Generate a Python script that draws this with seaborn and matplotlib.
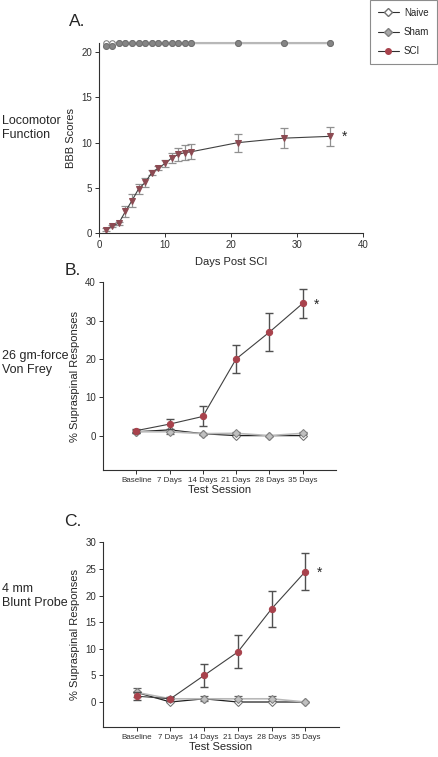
import numpy as np
import pandas as pd
import matplotlib
matplotlib.use("Agg")
import matplotlib.pyplot as plt
from matplotlib.lines import Line2D
import seaborn as sns

sns.set_style("ticks")
plt.rcParams['font.family'] = ['Liberation Sans', 'DejaVu Sans']

# ---- Panel A data (BBB scores) ----
days_a = [1, 2, 3, 4, 5, 6, 7, 8, 9, 10, 11, 12, 13, 14, 21, 28, 35]
sci_a = [0.4, 0.8, 1.1, 2.4, 3.6, 4.9, 5.6, 6.7, 7.2, 7.7, 8.3, 8.7, 8.9, 9.0, 10.0, 10.5, 10.7]
sci_a_err = [0.15, 0.15, 0.15, 0.6, 0.7, 0.55, 0.45, 0.25, 0.25, 0.35, 0.6, 0.7, 0.8, 0.8, 1.0, 1.1, 1.05]
naive_a = [21] * 17
sham_a = [20.7, 20.7] + [21] * 15

# ---- Panel B / C data ----
sessions = ["Baseline", "7 Days", "14 Days", "21 Days", "28 Days", "35 Days"]
sci_b = [1.3, 3.0, 5.0, 20.0, 27.0, 34.5]
sci_b_err = [0.5, 1.4, 2.6, 3.7, 5.0, 3.7]
naive_b = [1.0, 1.5, 0.5, 0.0, 0.0, 0.0]
sham_b = [1.0, 1.0, 0.5, 0.6, 0.0, 0.6]
sham_b_err = [0.4, 0.5, 0.3, 0.3, 0.0, 0.3]

sci_c = [1.1, 0.6, 5.0, 9.4, 17.5, 24.5]
sci_c_err = [0.7, 0.4, 2.1, 3.1, 3.4, 3.5]
naive_c = [1.8, 0.0, 0.6, 0.0, 0.0, 0.0]
sham_c = [1.8, 0.6, 0.6, 0.6, 0.6, 0.0]
sham_c_err = [0.9, 0.4, 0.5, 0.5, 0.5, 0.0]

RED = "#a8424c"
RED_A = "#8c4a52"
LGREY = "#b8b8b8"
DARK = "#404040"

fig = plt.figure(figsize=(4.38, 7.57), dpi=100)
axA = fig.add_axes([0.226, 0.692, 0.603, 0.251])
axB = fig.add_axes([0.235, 0.379, 0.532, 0.248])
axC = fig.add_axes([0.235, 0.0396, 0.539, 0.244])

def style(ax):
    sns.despine(ax=ax)
    for s in ["left", "bottom"]:
        ax.spines[s].set_linewidth(0.8)
        ax.spines[s].set_color("#303030")
    ax.tick_params(length=3, width=0.7, labelsize=7, colors="#303030", pad=2)

# Panel A
dfa = pd.DataFrame({"day": days_a * 3,
                    "val": naive_a + sham_a + sci_a,
                    "grp": ["Naive"] * 17 + ["Sham"] * 17 + ["SCI"] * 17})
sns.lineplot(data=dfa[dfa.grp == "Naive"], x="day", y="val", ax=axA, color=LGREY, lw=1.5,
             marker="o", markersize=4, markerfacecolor="white", markeredgecolor="#808080")
sns.lineplot(data=dfa[dfa.grp == "Sham"], x="day", y="val", ax=axA, color=LGREY, lw=1.5,
             marker="o", markersize=4.3, markerfacecolor="#858585", markeredgecolor="#707070")
axA.errorbar(days_a, sci_a, yerr=sci_a_err, fmt="none", ecolor="#909090", elinewidth=0.9,
             capsize=3, capthick=0.9)
sns.lineplot(data=dfa[dfa.grp == "SCI"], x="day", y="val", ax=axA, color=DARK, lw=0.8,
             marker="v", markersize=5, markerfacecolor=RED_A, markeredgecolor=RED_A)
axA.set_xlim(0, 40)
axA.set_ylim(0, 21)
axA.set_xticks([0, 10, 20, 30, 40])
axA.set_yticks([0, 5, 10, 15, 20])
axA.set_xlabel("Days Post SCI", fontsize=8, labelpad=5)
axA.set_ylabel("BBB Scores", fontsize=8, labelpad=4)
axA.text(37.2, sci_a[-1], "*", fontsize=10, ha="center", va="center")
for l in axA.lines:
    l.set_clip_on(False)
style(axA)

def cat_panel(ax, sci, sci_err, naive, sham, sham_err, ylim, yticks, star_y):
    x = list(range(len(sessions)))
    df = pd.DataFrame({"x": x * 3, "val": naive + sham + sci,
                       "grp": ["Naive"] * 6 + ["Sham"] * 6 + ["SCI"] * 6})
    ax.errorbar(x, sham, yerr=sham_err, fmt="none", ecolor="#606060", elinewidth=0.9,
                capsize=3, capthick=0.9)
    sns.lineplot(data=df[df.grp == "Naive"], x="x", y="val", ax=ax, color="#202020", lw=0.9,
                 marker="D", markersize=4, markerfacecolor="white", markeredgecolor="#707070")
    sns.lineplot(data=df[df.grp == "Sham"], x="x", y="val", ax=ax, color=LGREY, lw=1.2,
                 marker="D", markersize=4, markerfacecolor="#c0c0c0", markeredgecolor="#808080")
    ax.errorbar(x, sci, yerr=sci_err, fmt="none", ecolor="#505050", elinewidth=1.0,
                capsize=3, capthick=1.0)
    sns.lineplot(data=df[df.grp == "SCI"], x="x", y="val", ax=ax, color=DARK, lw=0.8,
                 marker="o", markersize=4.5, markerfacecolor=RED, markeredgecolor=RED)
    ax.set_xlim(-1, 6)
    ax.set_ylim(*ylim)
    ax.set_xticks(x)
    ax.set_xticklabels(sessions)
    ax.set_yticks(yticks)
    ax.set_xlabel("Test Session", fontsize=8, labelpad=1)
    ax.set_ylabel("% Supraspinal Responses", fontsize=8, labelpad=4)
    ax.text(5.42, star_y, "*", fontsize=10, ha="center", va="center")
    style(ax)
    ax.tick_params(axis="x", labelsize=5.8)

cat_panel(axB, sci_b, sci_b_err, naive_b, sham_b, sham_b_err, (-9, 40), [0, 10, 20, 30, 40], 34.2)
cat_panel(axC, sci_c, sci_c_err, naive_c, sham_c, sham_c_err, (-4.7, 30), [0, 5, 10, 15, 20, 25, 30], 24.2)

# Panel letters and side labels
fig.text(77 / 438, 1 - 22 / 757, "A.", fontsize=12.5, ha="center", va="center")
fig.text(73 / 438, 1 - 270 / 757, "B.", fontsize=12.5, ha="center", va="center")
fig.text(73 / 438, 1 - 522 / 757, "C.", fontsize=12.5, ha="center", va="center")
fig.text(2 / 438, 1 - 128 / 757, "Locomotor\nFunction", fontsize=9, ha="left", va="center",
         linespacing=1.2)
fig.text(2 / 438, 1 - 363 / 757, "26 gm-force\nVon Frey", fontsize=9, ha="left", va="center",
         linespacing=1.2)
fig.text(2 / 438, 1 - 596 / 757, "4 mm\nBlunt Probe", fontsize=9, ha="left", va="center",
         linespacing=1.2)

handles = [
    Line2D([], [], color="#303030", lw=0.8, marker="D", markersize=4,
           markerfacecolor="white", markeredgecolor="#707070"),
    Line2D([], [], color="#303030", lw=0.8, marker="D", markersize=4,
           markerfacecolor="#a8a8a8", markeredgecolor="#808080"),
    Line2D([], [], color="#303030", lw=0.8, marker="o", markersize=4,
           markerfacecolor=RED, markeredgecolor=RED),
]
leg = fig.legend(handles, ["Naive", "Sham", "SCI"], loc="upper right",
                 bbox_to_anchor=(437 / 438, 1.0), borderaxespad=0.0, fontsize=7,
                 frameon=True, fancybox=False, handlelength=2.2, borderpad=0.8,
                 labelspacing=0.95, handletextpad=0.5)
leg.get_frame().set_edgecolor("#707070")
leg.get_frame().set_linewidth(0.8)

fig.savefig("out.png", dpi=100)
